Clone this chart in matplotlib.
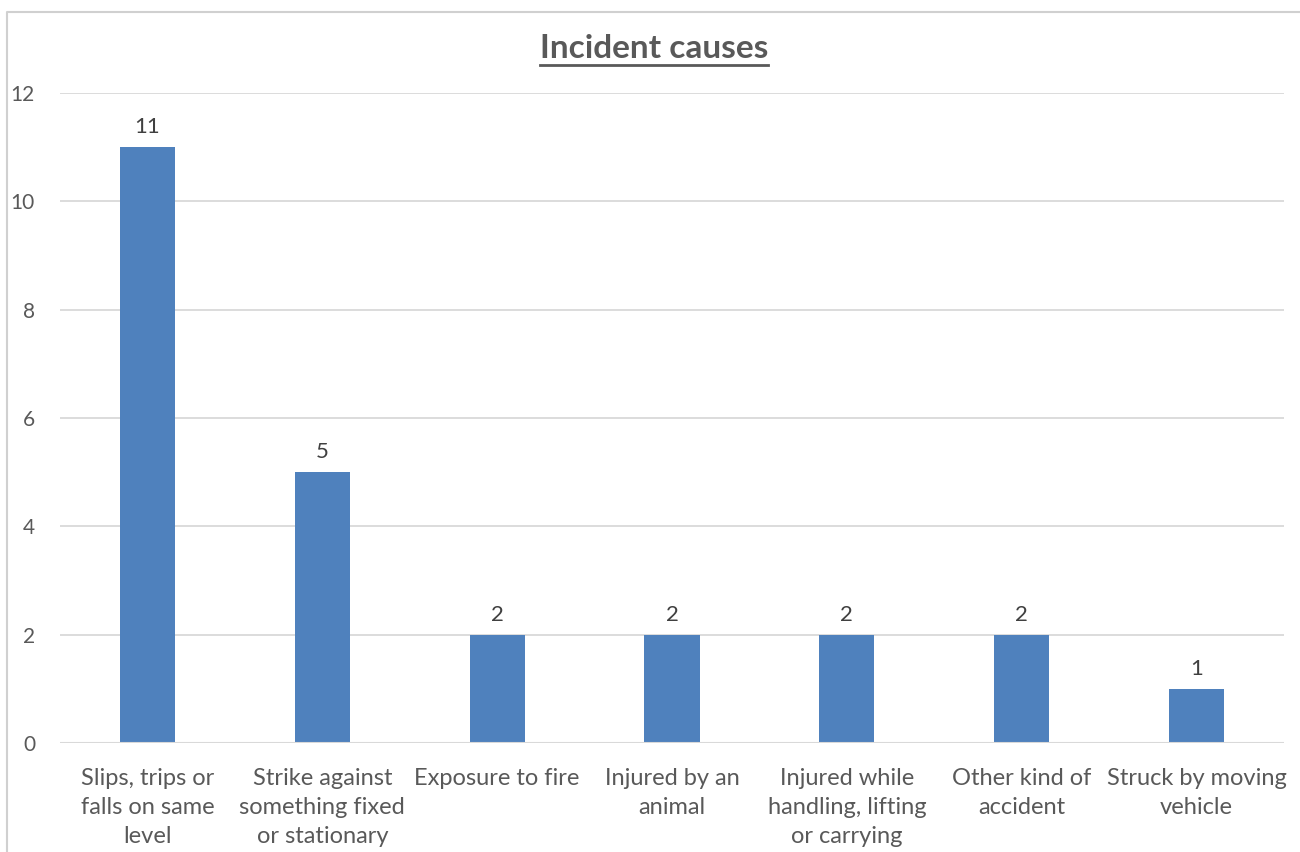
import matplotlib.pyplot as plt
from matplotlib.lines import Line2D

# 事故原因ごとの件数
causes = [
    "Slips, trips or\nfalls on same\nlevel",
    "Strike against\nsomething fixed\nor stationary",
    "Exposure to fire",
    "Injured by an\nanimal",
    "Injured while\nhandling, lifting\nor carrying",
    "Other kind of\naccident",
    "Struck by moving\nvehicle",
]
counts = [11, 5, 2, 2, 2, 2, 1]
yticks = [0, 2, 4, 6, 8, 10, 12]

bar_color = "#4F81BD"
text_color = "#595959"
grid_color = "#D9D9D9"

plt.rcParams['font.family'] = ['Lato', 'DejaVu Sans']

fig = plt.figure(figsize=(13, 8.52), dpi=100)
ax = fig.add_axes([60 / 1300, 1 - 743 / 852, (1284 - 60) / 1300, (743 - 93) / 852])

x = list(range(len(causes)))
bars = ax.bar(x, counts, width=0.315, color=bar_color, zorder=3)

for b, v in zip(bars, counts):
    ax.text(b.get_x() + b.get_width() / 2, v + 0.18, str(v),
            ha="center", va="bottom", fontsize=16, color="#404040")

ax.set_xlim(-0.5, len(causes) - 0.5)
ax.set_ylim(0, 12)
ax.set_yticks(yticks)
ax.set_xticks(x)
ax.set_xticklabels(causes, fontsize=17, color=text_color, linespacing=1.47)
ax.tick_params(axis="y", labelsize=15, colors=text_color, length=0, pad=18)
ax.tick_params(axis="x", length=0, pad=18)
ax.grid(axis="y", color=grid_color, linewidth=1.3, zorder=0)
for s in ax.spines.values():
    s.set_visible(False)
ax.axhline(0, color=grid_color, linewidth=1.5, zorder=4)

# タイトル（下線付き）
title = fig.text(0.503, 1 - 49 / 852, "Incident causes", ha="center", va="center",
                 fontsize=24, fontweight="bold", color=text_color)
fig.canvas.draw()
bb = title.get_window_extent().transformed(fig.transFigure.inverted())
fig.add_artist(Line2D([bb.x0, bb.x1], [bb.y0 - 0.002, bb.y0 - 0.002],
                      transform=fig.transFigure, color=text_color, linewidth=2.0))

# グラフ枠
fig.add_artist(Line2D([6.5 / 1300, 6.5 / 1300, 1.0], [0.0, 1 - 11.5 / 852, 1 - 11.5 / 852],
                      transform=fig.transFigure, color="#D0D0D0", linewidth=1.5))

fig.savefig("out.png", dpi=100, facecolor="white")
